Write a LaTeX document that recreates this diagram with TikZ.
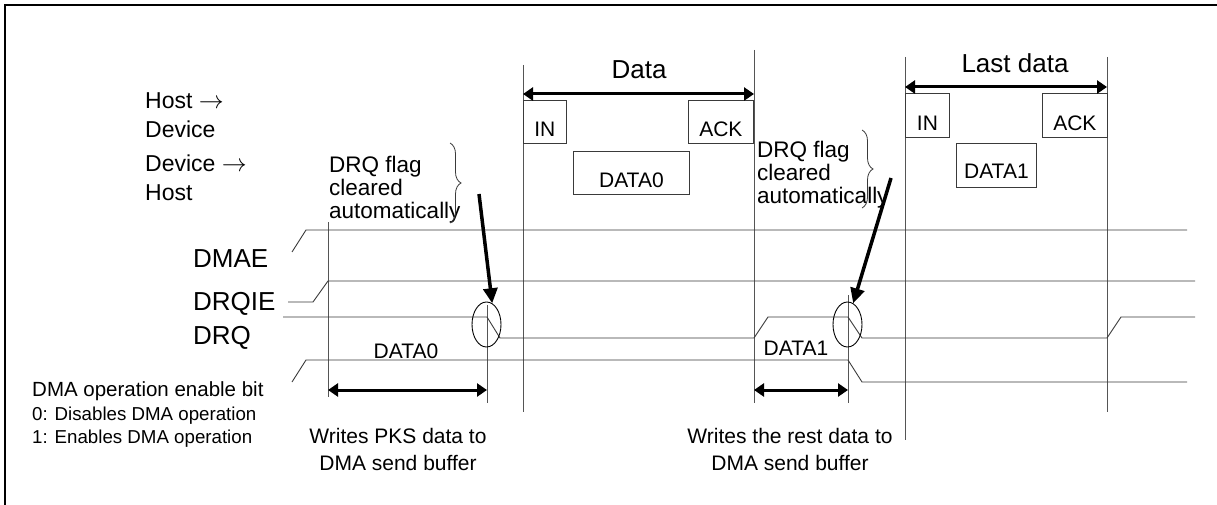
\documentclass[tikz,border=0pt]{standalone}
\usepackage{fontspec}
\setmainfont{Liberation Sans}
\usetikzlibrary{arrows.meta,decorations.pathreplacing,shapes.geometric}
\definecolor{tdline}{HTML}{3A3A3A}
\definecolor{tdgrid}{HTML}{555555}

\begin{document}
\begin{tikzpicture}[x=1pt, y=-1pt,
  sig/.style={draw=tdline, line width=0.9pt},
  guide/.style={draw=tdgrid, line width=0.9pt},
  pkt/.style={draw=tdline, line width=0.8pt, anchor=north west, inner sep=0pt,
              font=\fontsize{21}{25}\selectfont, minimum height=43pt,
              text height=36pt, text depth=7pt},
  span/.style={{Triangle[length=10pt,width=13pt]}-{Triangle[length=10pt,width=13pt]},
               line width=3pt},
  pointer/.style={-{Triangle[length=15pt,width=14pt]}, line width=3.5pt},
  sname/.style={anchor=base west, inner sep=0pt, font=\fontsize{26}{30}\selectfont},
  note/.style={anchor=north west, inner sep=0pt, align=left, font=\fontsize{22.5}{23}\selectfont},
  hdr/.style={anchor=base, inner sep=0pt, font=\fontsize{26}{30}\selectfont},
  val/.style={anchor=base, inner sep=0pt, font=\fontsize{21}{25}\selectfont},
  wrnote/.style={anchor=north, inner sep=0pt, align=center, font=\fontsize{21}{27}\selectfont},
  clr/.style={draw=black, line width=0.9pt, ellipse, inner sep=0pt,
              minimum width=29pt, minimum height=45pt},
  brc/.style={draw=tdline, line width=0.8pt, decorate, decoration={brace, amplitude=11pt}},
]
\useasboundingbox (0,0) rectangle (1217,505);
\draw[line width=2pt] (5,505) -- (5,5) -- (1217,5);

% direction and signal labels
\node[note, font=\fontsize{23}{29}\selectfont] (h2d) at (145,92) {Host $\rightarrow$\\Device};
\node[note, font=\fontsize{23}{29}\selectfont] (d2h) at (145,155) {Device $\rightarrow$\\Host};
\node[sname] (dmae) at (193,267) {DMAE};
\node[sname] (drqie) at (193,310) {DRQIE};
\node[sname] (drq) at (193,344) {DRQ};
\node[anchor=base west, inner sep=0pt, font=\fontsize{20.5}{24}\selectfont] (dmaeb) at (32,396)
  {DMA operation enable bit};
\node[note, font=\fontsize{18.7}{23}\selectfont] (dmaev) at (32,407)
  {0: Disables DMA operation\\1: Enables DMA operation};

% time markers
\foreach \x/\t/\b in {328/222/397, 487/305/403, 523/65/412, 754/50/403,
                      848/295/403, 905/57/440, 1107/57/412}
  \draw[guide] (\x,\t) -- (\x,\b);

% waveforms
\draw[sig] (292,252) -- (306,230) -- (1187,230);
\draw[sig] (288,302) -- (313,302) -- (328,281) -- (1195,281);
\draw[sig] (283,317) -- (487,317) -- (500,338) -- (754,338) -- (768,317) -- (848,317)
  -- (862,338) -- (1107,338) -- (1121,317) -- (1195,317);
\draw[sig] (292,382) -- (306,360) -- (848,360) -- (862,382) -- (1187,382);

% packets
\node[pkt, minimum width=43pt] (in0) at (523,100) {IN};
\node[pkt, minimum width=65pt] (ack0) at (688,100) {ACK};
\node[pkt, minimum width=116pt] (dat0) at (573,151) {DATA0};
\node[pkt, minimum width=44pt, minimum height=44pt, text height=37pt] (in1) at (905,93) {IN};
\node[pkt, minimum width=65pt, minimum height=44pt, text height=37pt] (ack1) at (1042,93) {ACK};
\node[pkt, minimum width=80pt, minimum height=44pt, text height=35pt, text depth=9pt]
  (dat1) at (956,143) {DATA1};

\coordinate (d0a) at (523,94);
\coordinate (d0b) at (754,94);
\draw[span] (d0a) -- (d0b);
\node[hdr] (datahd) at (639,79) {Data};
\coordinate (d1a) at (905,87);
\coordinate (d1b) at (1107,87);
\draw[span] (d1a) -- (d1b);
\node[hdr] (lasthd) at (1015,73) {Last data};

% buffer writes
\coordinate (w0a) at (328,390);
\coordinate (w0b) at (487,390);
\draw[span] (w0a) -- (w0b);
\node[val] (v0) at (406,358) {DATA0};
\node[wrnote] (wr0) at (398,428) {Writes PKS data to\\DMA send buffer};
\coordinate (w1a) at (754,390);
\coordinate (w1b) at (848,390);
\draw[span] (w1a) -- (w1b);
\node[val] (v1) at (796,355) {DATA1};
\node[wrnote] (wr1) at (790,428) {Writes the rest data to\\DMA send buffer};

% DRQ cleared
\node[note] (flg0) at (329,156) {DRQ flag\\cleared\\automatically};
\draw[brc] (450,143) -- (450,223);
\node[clr] (clr0) at (486.5,324.5) {};
\coordinate (p0) at (479,194);
\draw[pointer] (p0) -- (clr0.75);

\node[note] (flg1) at (757,141) {DRQ flag\\cleared\\automatically};
\draw[brc] (862,130) -- (862,208);
\node[clr] (clr1) at (847.5,324.5) {};
\coordinate (p1) at (891,178);
\draw[pointer] (p1) -- (clr1.75);
\end{tikzpicture}
\end{document}
